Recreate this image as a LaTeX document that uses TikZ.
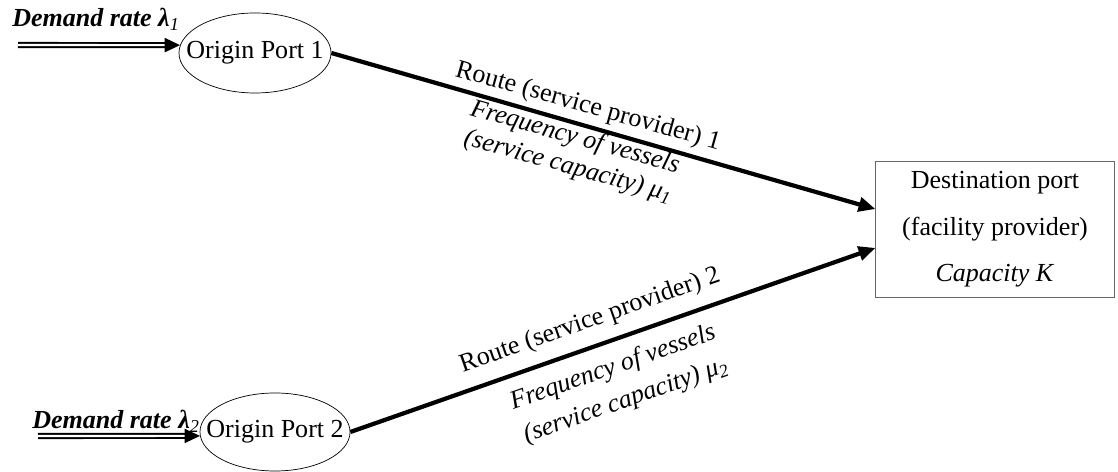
\documentclass[tikz,border=0pt]{standalone}
\usepackage{fontspec}
\setmainfont{Liberation Serif}
\usepackage{tikz}
\usetikzlibrary{positioning,shapes.geometric,arrows.meta}

\tikzset{
  port/.style={draw, ellipse, inner xsep=-0.4cm, inner ysep=0pt, line width=0.5pt},
  facility/.style={draw=black!60, rectangle, line width=0.7pt, minimum width=5.95cm, minimum height=3.375cm, align=center},
  route/.style={line width=3pt, -{Triangle[length=12pt,width=10pt]}},
  demand/.style={double, line width=1.4pt, double distance=1.5pt, -{Triangle[length=11pt,width=10pt]}},
  lbl/.style={inner sep=0pt}
}

\begin{document}
\begin{tikzpicture}[x=0.025cm, y=0.025cm, font=\fontsize{18.5pt}{22pt}\selectfont]
\useasboundingbox (0,0) rectangle (1118,472);

% ports
\node[port, minimum width=3.8cm, minimum height=2cm] (o1) at (255,419) {Origin Port 1};
\node[port, minimum width=3.75cm, minimum height=1.95cm] (o2) at (275,40) {Origin Port 2};
\node[facility] (dest) at (995,242.5) {Destination port\\[11pt](facility provider)\\[11pt]\textit{Capacity K}};

% demand arrivals
\coordinate (d1) at (18,427);
\coordinate (d2) at (38,36);
\node[lbl, anchor=base west] (dr1) at (12,445) {\textbf{\textit{Demand rate λ}}\textsubscript{\textit{1}}};
\node[lbl, anchor=base west] (dr2) at (32,43) {\textbf{\textit{Demand rate λ}}\textsubscript{\textit{2}}};
\draw[demand] (d1) -- (o1.174);
\draw[demand] (d2) -- (o2.183);

% routes
\draw[route] (o1.east) -- ([yshift=0.51cm]dest.west);
\draw[route] (o2.east) -- ([yshift=-0.46cm]dest.west);

\node[lbl, rotate=-15.6] (r1) at (588,365) {Route (service provider) 1};
\node[lbl, rotate=-15.6] (f1) at (575,334) {\textit{Frequency of vessels}};
\node[lbl, rotate=-15.6] (c1) at (568,305) {\textit{(service capacity) μ\textsubscript{1}}};

\node[lbl, rotate=19.3] (r2) at (590,151) {Route (service provider) 2};
\node[lbl, rotate=19.3] (f2) at (613,104) {\textit{Frequency of vessels}};
\node[lbl, rotate=19.3] (c2) at (626,71) {\textit{(service capacity) μ\textsubscript{2}}};
\end{tikzpicture}
\end{document}
